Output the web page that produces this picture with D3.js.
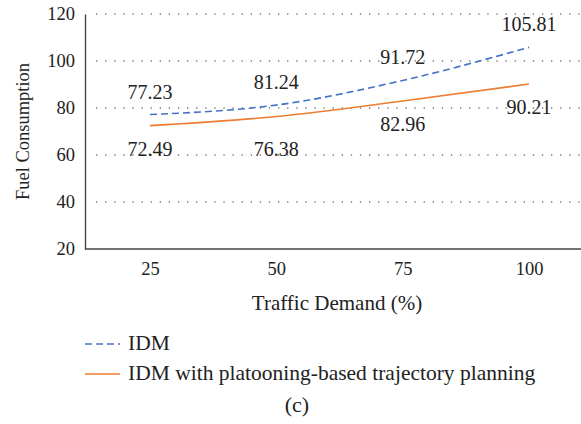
<!DOCTYPE html>
<html>
<head>
<meta charset="utf-8">
<script src="https://cdn.jsdelivr.net/npm/d3@7"></script>
<style>
  body { margin: 0; background: #fff; }
  svg { display: block; }
  text { font-family: "Liberation Serif", "DejaVu Serif", serif; fill: #222; }
</style>
</head>
<body>
<svg id="chart" width="581" height="424"></svg>
<script>
// Traffic demand levels (%)
const categories = ["25", "50", "75", "100"];
// Fuel consumption per series
const idmValues = [77.23, 81.24, 91.72, 105.81];
const platoonValues = [72.49, 76.38, 82.96, 90.21];
const yTicks = [20, 40, 60, 80, 100, 120];
const seriesNames = ["IDM", "IDM with platooning-based trajectory planning"];

// Vertical placement of the value labels relative to their points
const idmLabelDy = [-16, -16, -16, -16];
const platoonLabelDy = [30, 39, 30, 30];

const svg = d3.select("#chart");
const W = 581;
const margin = { left: 85, top: 14, bottom: 249 };
const tickSize = 18.5;

const x = d3.scalePoint().domain(categories).range([150, 529]);
const y = d3.scaleLinear().domain([20, 120]).range([margin.bottom, margin.top]);

// Dotted horizontal gridlines
svg.append("g").selectAll("line")
  .data(yTicks.filter(t => t > 20))
  .join("line")
  .attr("x1", 96).attr("x2", W)
  .attr("y1", d => y(d)).attr("y2", d => y(d))
  .attr("stroke", "#7a7a7a").attr("stroke-width", 1.3)
  .attr("stroke-dasharray", "1.3,7.8");

// Y axis
const yAxis = svg.append("g")
  .attr("transform", `translate(${margin.left},0)`)
  .call(d3.axisLeft(y).tickValues(yTicks).tickSize(0).tickPadding(10));
yAxis.select(".domain").attr("stroke", "#444").attr("stroke-width", 1.4);
yAxis.selectAll("text").attr("font-size", tickSize).attr("font-family", null).attr("fill", "#222");

// X axis
const xAxis = svg.append("g")
  .attr("transform", `translate(0,${margin.bottom})`)
  .call(d3.axisBottom(x).tickSize(0).tickPadding(13));
xAxis.select(".domain").remove();
xAxis.selectAll("text").attr("font-size", tickSize).attr("font-family", null).attr("fill", "#222");
svg.append("line")
  .attr("x1", margin.left).attr("x2", W)
  .attr("y1", margin.bottom).attr("y2", margin.bottom)
  .attr("stroke", "#444").attr("stroke-width", 1.4);

// Axis titles
svg.append("text")
  .attr("transform", `translate(23,${(margin.top + margin.bottom) / 2}) rotate(-90)`)
  .attr("text-anchor", "middle").attr("dominant-baseline", "central")
  .attr("font-size", 18.5).text("Fuel Consumption");
svg.append("text")
  .attr("x", 337).attr("y", 310)
  .attr("text-anchor", "middle").attr("font-size", 21)
  .text("Traffic Demand (%)");

// Series lines
const line = d3.line()
  .x((d, i) => x(categories[i]))
  .y(d => y(d))
  .curve(d3.curveMonotoneX);

svg.append("path").datum(idmValues)
  .attr("d", line).attr("fill", "none")
  .attr("stroke", "#4472C4").attr("stroke-width", 1.6)
  .attr("stroke-dasharray", "7,4");
svg.append("path").datum(platoonValues)
  .attr("d", line).attr("fill", "none")
  .attr("stroke", "#ED7D31").attr("stroke-width", 1.6);

// Value labels: IDM above, platooning below
svg.append("g").selectAll("text")
  .data(idmValues).join("text")
  .attr("x", (d, i) => x(categories[i]))
  .attr("y", (d, i) => y(d) + idmLabelDy[i])
  .attr("text-anchor", "middle").attr("font-size", 20)
  .text(d => d.toFixed(2));
svg.append("g").selectAll("text")
  .data(platoonValues).join("text")
  .attr("x", (d, i) => x(categories[i]))
  .attr("y", (d, i) => y(d) + platoonLabelDy[i])
  .attr("text-anchor", "middle").attr("font-size", 20)
  .text(d => d.toFixed(2));

// Legend
const legend = svg.append("g");
const rows = [
  { name: seriesNames[0], color: "#4472C4", dash: "7,4", y: 344 },
  { name: seriesNames[1], color: "#ED7D31", dash: null, y: 374 }
];
rows.forEach(r => {
  legend.append("line")
    .attr("x1", 85).attr("x2", 120).attr("y1", r.y).attr("y2", r.y)
    .attr("stroke", r.color).attr("stroke-width", 1.6)
    .attr("stroke-dasharray", r.dash);
  legend.append("text")
    .attr("x", 128).attr("y", r.y + 6)
    .attr("font-size", 21.5).text(r.name);
});
svg.append("text")
  .attr("x", 297).attr("y", 412)
  .attr("text-anchor", "middle").attr("font-size", 22)
  .text("(c)");
</script>
</body>
</html>
